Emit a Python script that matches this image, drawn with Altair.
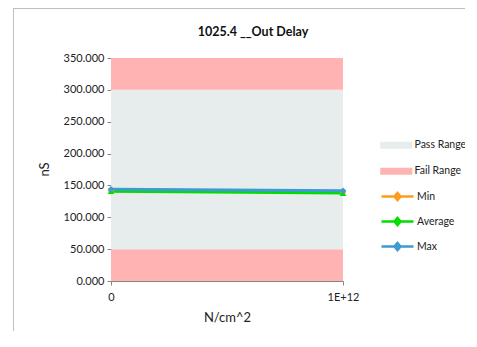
import altair as alt
import pandas as pd

# ---- data ----
x_vals = [0, 1e12]
x_labels = ["0", "1E+12"]
series_names = ["Min", "Average", "Max"]
min_vals = [141.5, 139.5]
avg_vals = [141.0, 138.0]
max_vals = [144.0, 141.5]
series_colors = ["#FF9A1A", "#00DD00", "#3C9BD0"]
series_shapes = ["diamond", "triangle-up", "diamond"]

band_names = ["Fail Range", "Pass Range", "Fail Range"]
band_low = [0, 50, 300]
band_high = [50, 300, 350]
band_domain = ["Pass Range", "Fail Range"]
band_colors = ["#E7ECEC", "#FFB3B3"]

y_ticks = [0, 50, 100, 150, 200, 250, 300, 350]

FONT = "Lato"

rows = []
for name, vals in zip(series_names, [min_vals, avg_vals, max_vals]):
    for xv, yv in zip(x_vals, vals):
        rows.append({"x": xv, "y": yv, "series": name})
lines_df = pd.DataFrame(rows)

bands_df = pd.DataFrame({
    "band": band_names,
    "low": band_low,
    "high": band_high,
    "x0": [x_vals[0]] * len(band_names),
    "x1": [x_vals[-1]] * len(band_names),
})

label_expr = " : ".join(
    f"datum.value == {v:g} ? '{l}'" for v, l in zip(x_vals[:-1], x_labels[:-1])
) + f" : '{x_labels[-1]}'"

x_scale = alt.Scale(domain=[x_vals[0], x_vals[-1]], nice=False, zero=False)
y_scale = alt.Scale(domain=[0, 350], nice=False)

x_axis = alt.Axis(
    values=x_vals, labelExpr=label_expr, grid=False, title="N/cm^2",
    labelFontSize=11, titleFontSize=13, titleFontWeight="normal",
    titlePadding=9, labelPadding=6, tickSize=4, labelFlush=False,
    labelOverlap=False,
)
y_axis = alt.Axis(
    values=y_ticks, format=".3f", grid=False, title="nS",
    labelFontSize=11, titleFontSize=13, titleFontWeight="normal",
    tickSize=4, labelPadding=3, labelOverlap=False,
    titleAngle=270, titleX=-67, titleY=111, titleAlign="center",
    titleBaseline="middle",
)

rect_path = "M-3.2,-0.7H3.2V0.7H-3.2Z"
line_path = "M-3.2,0H3.2M0,-0.7L0.6,0L0,0.7L-0.6,0Z"

bands = alt.Chart(bands_df).mark_rect().encode(
    x=alt.X("x0:Q", scale=x_scale, axis=x_axis),
    x2="x1:Q",
    y=alt.Y("low:Q", scale=y_scale, axis=y_axis),
    y2="high:Q",
    fill=alt.Fill(
        "band:N",
        scale=alt.Scale(domain=band_domain, range=band_colors),
        legend=alt.Legend(
            title=None, orient="none", legendX=280, legendY=82,
            symbolType=rect_path, symbolSize=100, symbolStrokeWidth=0,
            labelFontSize=10.5, labelOffset=13, rowPadding=15, padding=0,
            labelColor="#222222",
        ),
    ),
)

lines = alt.Chart(lines_df).mark_line(strokeWidth=3).encode(
    x=alt.X("x:Q", scale=x_scale, axis=x_axis),
    y=alt.Y("y:Q", scale=y_scale, axis=y_axis),
    stroke=alt.Stroke(
        "series:N",
        scale=alt.Scale(domain=series_names, range=series_colors),
        legend=alt.Legend(
            title=None, orient="none", legendX=280, legendY=132,
            symbolType=line_path, symbolSize=100, symbolStrokeWidth=2.5,
            labelFontSize=10.5, labelOffset=13, rowPadding=8, padding=0,
            labelColor="#222222",
        ),
    ),
    order=alt.Order("x:Q"),
)

point_layers = []
for name, col, shp in zip(series_names, series_colors, series_shapes):
    point_layers.append(
        alt.Chart(lines_df).transform_filter(
            alt.datum.series == name
        ).mark_point(filled=True, size=45, opacity=1, color=col, shape=shp).encode(
            x=alt.X("x:Q", scale=x_scale, axis=x_axis),
            y=alt.Y("y:Q", scale=y_scale, axis=y_axis),
        )
    )

frame = alt.Chart(pd.DataFrame({"k": [0]})).mark_rule(color="#BFBFBF", strokeWidth=1).encode(
    x=alt.value(-97.5), y=alt.value(-50), y2=alt.value(273)
)
frame_top = alt.Chart(pd.DataFrame({"k": [0]})).mark_rule(color="#BFBFBF", strokeWidth=1).encode(
    x=alt.value(-97.5), x2=alt.value(366), y=alt.value(-49.5)
)

chart = alt.layer(bands, lines, *point_layers, frame, frame_top).properties(
    width=232,
    height=223,
    title=alt.TitleParams(
        "1025.4 __Out Delay", fontSize=12.5, fontWeight="bold", font=FONT,
        dx=26, dy=49, offset=18, color="#111111", frame="group",
    ),
    autosize=alt.AutoSizeParams(type="none"),
    padding={"left": 103, "top": 50, "right": 122, "bottom": 56},
).resolve_scale(
    x="shared", y="shared"
).configure(
    font=FONT,
).configure_axis(
    labelFont=FONT, titleFont=FONT, domainColor="#868686", tickColor="#868686",
    labelColor="#222222", titleColor="#222222",
).configure_legend(
    labelFont=FONT,
).configure_view(
    stroke=None,
)

chart.save("out.html", embed_options={"renderer": "svg", "actions": False})
